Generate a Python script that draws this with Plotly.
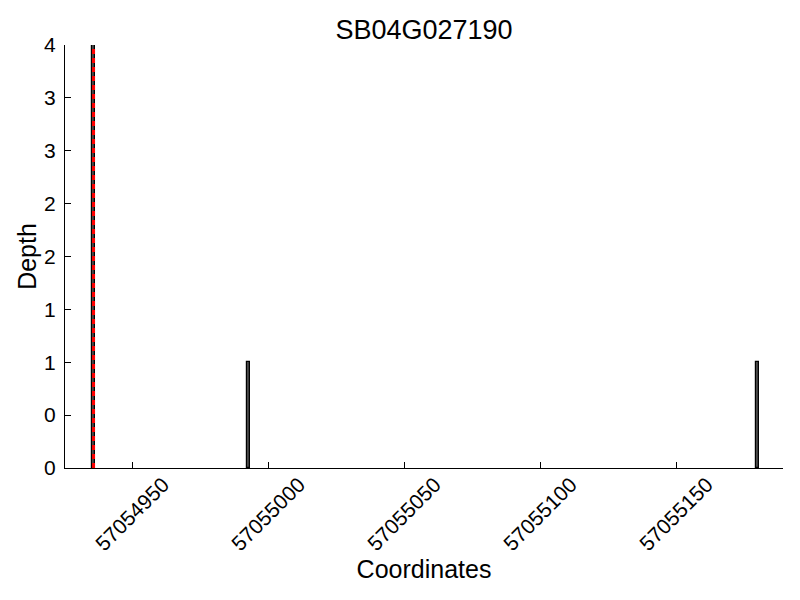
import plotly.graph_objects as go

# Data
positions = [57054935, 57054992, 57055179]
depths = [4, 1, 1]
marker_pos = 57054935
x_tickvals = [57054950, 57055000, 57055050, 57055100, 57055150]
x_ticktext = ["57054950", "57055000", "57055050", "57055100", "57055150"]
y_tickvals = [0, 0.5, 1, 1.5, 2, 2.5, 3, 3.5, 4]
y_ticktext = ["0", "0", "1", "1", "2", "2", "3", "3", "4"]
title_text = "SB04G027190"
x_range = [57054925, 57055189]
y_range = [0, 4]

FONT = "Liberation Sans, Arial, sans-serif"
BAR_W = 1

fig = go.Figure()
fig.add_trace(go.Bar(
    x=positions, y=depths, width=BAR_W, offset=0,
    marker=dict(color="#4a4a4a", line=dict(color="black", width=1.2)),
    showlegend=False,
))
fig.add_shape(type="line", xref="x", yref="y",
              x0=marker_pos + BAR_W / 2, x1=marker_pos + BAR_W / 2,
              y0=y_range[0], y1=y_range[1],
              line=dict(color="#ff0000", width=3, dash="5px,4px"))

fig.update_layout(
    width=800, height=600,
    margin=dict(l=57, r=25, t=37, b=140, autoexpand=False),
    plot_bgcolor="white", paper_bgcolor="white",
    font=dict(family=FONT, color="black"),
    title=dict(text=title_text, x=0.5, xanchor="center", xref="paper",
               y=1 - 22 / 600, yanchor="middle", yref="container",
               automargin=False,
               font=dict(size=27, family=FONT, color="black")),
    bargap=0,
)
fig.update_xaxes(
    range=x_range, tickvals=x_tickvals, ticktext=x_ticktext,
    ticks="inside", ticklen=6, tickcolor="black", tickwidth=1,
    showline=True, linecolor="black", linewidth=1, mirror=False,
    showgrid=False, zeroline=False, tickangle=-45, automargin=False,
    ticklabelshift=30, ticklabelstandoff=-5,
    tickfont=dict(size=21, family=FONT, color="black"),
    title=dict(text="Coordinates", font=dict(size=25, family=FONT, color="black"), standoff=0),
)
fig.update_yaxes(
    range=y_range, tickvals=y_tickvals, ticktext=y_ticktext,
    ticks="inside", ticklen=6, tickcolor="black", tickwidth=1,
    showline=True, linecolor="black", linewidth=1, mirror=False,
    showgrid=False, zeroline=False, ticklabelstandoff=4, automargin=False,
    tickfont=dict(size=21, family=FONT, color="black"),
    title=dict(text="Depth", font=dict(size=25, family=FONT, color="black"), standoff=0),
)

fig.write_html("out.html")
